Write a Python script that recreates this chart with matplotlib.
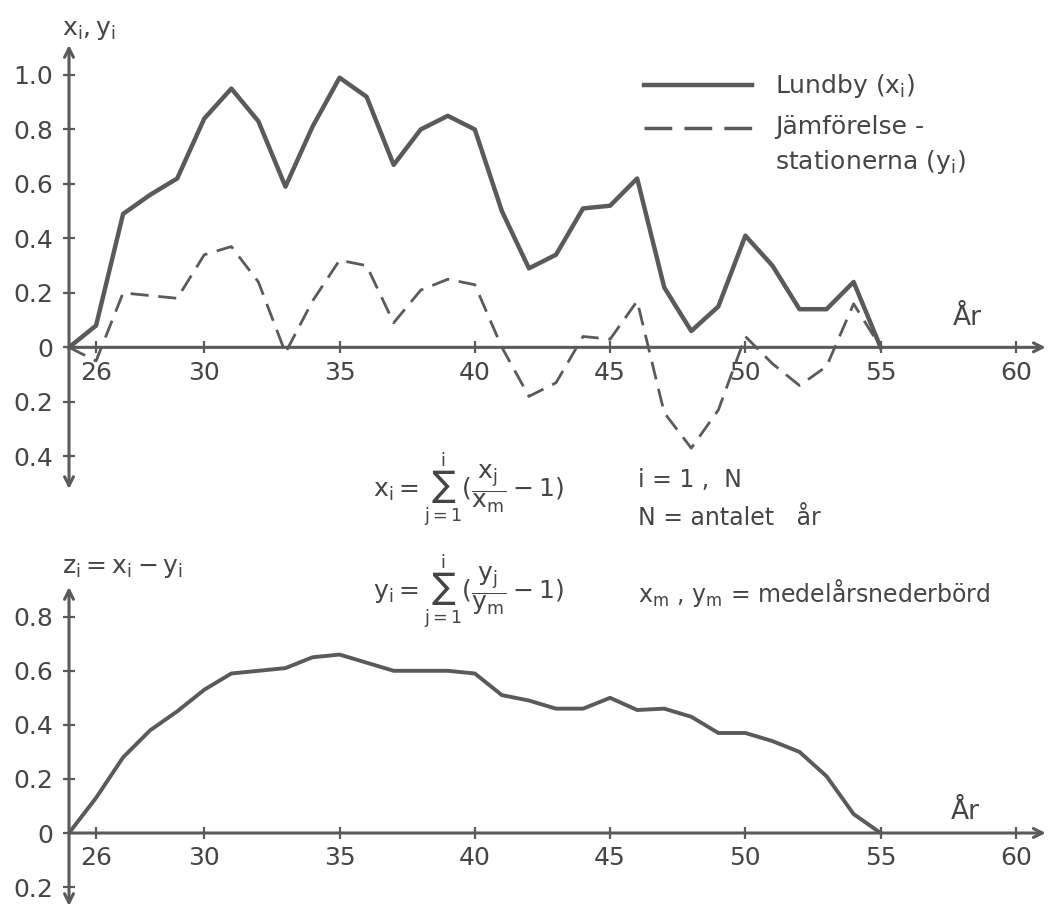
import matplotlib.pyplot as plt
from matplotlib.lines import Line2D

# yearly cumulative deviations, 1925-1955
years = list(range(25, 56))
lundby = [0.00, 0.08, 0.49, 0.56, 0.62, 0.84, 0.95, 0.83, 0.59, 0.81, 0.99,
          0.92, 0.67, 0.80, 0.85, 0.80, 0.50, 0.29, 0.34, 0.51, 0.52, 0.62,
          0.22, 0.06, 0.15, 0.41, 0.30, 0.14, 0.14, 0.24, 0.00]
stations = [0.00, -0.05, 0.20, 0.19, 0.18, 0.34, 0.37, 0.24, -0.02, 0.17, 0.32,
            0.30, 0.09, 0.21, 0.25, 0.23, 0.00, -0.18, -0.13, 0.04, 0.03, 0.17,
            -0.24, -0.37, -0.23, 0.04, -0.06, -0.14, -0.07, 0.16, 0.00]
diff = [0.00, 0.13, 0.28, 0.38, 0.45, 0.53, 0.59, 0.60, 0.61, 0.65, 0.66,
        0.63, 0.60, 0.60, 0.60, 0.59, 0.51, 0.49, 0.46, 0.46, 0.50, 0.455,
        0.46, 0.43, 0.37, 0.37, 0.34, 0.30, 0.21, 0.07, 0.00]

x_ticks = [26, 30, 35, 40, 45, 50, 55, 60]
top_yticks = [-0.4, -0.2, 0, 0.2, 0.4, 0.6, 0.8, 1.0]
top_ylabels = ['0.4', '0.2', '0', '0.2', '0.4', '0.6', '0.8', '1.0']
bot_yticks = [-0.2, 0, 0.2, 0.4, 0.6, 0.8]
bot_ylabels = ['0.2', '0', '0.2', '0.4', '0.6', '0.8']

INK = '#454545'
LINE = '#5a5a5a'
W, H = 1052, 916

plt.rcParams['font.family'] = ['DejaVu Sans']
plt.rcParams['mathtext.fontset'] = 'dejavusans'

fig = plt.figure(figsize=(W / 100, H / 100), dpi=100)


def px_axes(left, top, right, bottom):
    return fig.add_axes([left / W, 1 - bottom / H, (right - left) / W, (bottom - top) / H])


def ftext(x, y, s, size=17, ha='left'):
    fig.text(x / W, 1 - y / H, s, fontsize=size, color=INK, ha=ha, va='center')


def setup(ax, ylim, yticks, ylabels):
    ax.set_xlim(25, 61)
    ax.set_ylim(*ylim)
    for side in ['top', 'right', 'left', 'bottom']:
        ax.spines[side].set_visible(False)
    ax.spines['left'].set_position(('data', 25))
    ax.spines['bottom'].set_position(('data', 0))
    ax.patch.set_visible(False)
    ax.set_xticks(x_ticks)
    ax.set_xticklabels([str(t) for t in x_ticks])
    ax.set_yticks(yticks)
    ax.set_yticklabels(ylabels)
    ax.tick_params(direction='inout', length=9, width=1.6, color=LINE,
                   labelsize=18, labelcolor=INK)
    ax.tick_params(axis='x', pad=5)
    ax.tick_params(axis='y', pad=7)
    head = dict(lw=2.2, color=LINE, shrinkA=0, shrinkB=0, mutation_scale=16)
    ax.annotate('', xy=(61.1, 0), xytext=(25, 0),
                arrowprops=dict(arrowstyle='->', **head), annotation_clip=False)
    ax.annotate('', xy=(25, ylim[1]), xytext=(25, ylim[0]),
                arrowprops=dict(arrowstyle='<->', **head), annotation_clip=False)


# upper panel: x_i and y_i
ax1 = px_axes(69, 45, 1043, 489)
setup(ax1, (-0.52, 1.11), top_yticks, top_ylabels)
ax1.plot(years, lundby, color=LINE, lw=3.2, solid_joinstyle='round', clip_on=False)
ax1.plot(years, stations, color=LINE, lw=2, dashes=(6.5, 3.5), clip_on=False)

# lower panel: z_i = x_i - y_i
ax2 = px_axes(69, 587, 1043, 906)
setup(ax2, (-0.27, 0.91), bot_yticks, bot_ylabels)
ax2.plot(years, diff, color=LINE, lw=2.8, solid_joinstyle='round', clip_on=False)

# hand-drawn legend
fig.add_artist(Line2D([644 / W, 752 / W], [1 - 85 / H, 1 - 85 / H], color=LINE, lw=3.2))
fig.add_artist(Line2D([644 / W, 752 / W], [1 - 128 / H, 1 - 128 / H], color=LINE, lw=2.5,
                      dashes=(8, 3.5)))
ftext(775, 86, r'Lundby ($\mathregular{x_i}$)', 18)
ftext(775, 127, 'Jämförelse -', 18)
ftext(775, 162, r'stationerna ($\mathregular{y_i}$)', 18)

# axis titles and labels
ftext(62, 30, r'$\mathregular{x_i , y_i}$', 18)
ftext(62, 568, r'$\mathregular{z_i = x_i - y_i}$', 18)
ftext(967, 318, 'År', 19, 'center')
ftext(965, 812, 'År', 19, 'center')

# definitions
ftext(373, 490, r'$\mathregular{x_i = \sum_{j=1}^{i}(\dfrac{x_j}{x_m} - 1)}$', 18)
ftext(373, 592, r'$\mathregular{y_i = \sum_{j=1}^{i}(\dfrac{y_j}{y_m} - 1)}$', 18)
ftext(638, 480, 'i = 1 ,  N', 17)
ftext(638, 518, 'N = antalet   år', 17)
ftext(638, 593, r'$\mathregular{x_m}$ , $\mathregular{y_m}$ = medelårsnederbörd', 17)

fig.savefig('out.png', dpi=100)
